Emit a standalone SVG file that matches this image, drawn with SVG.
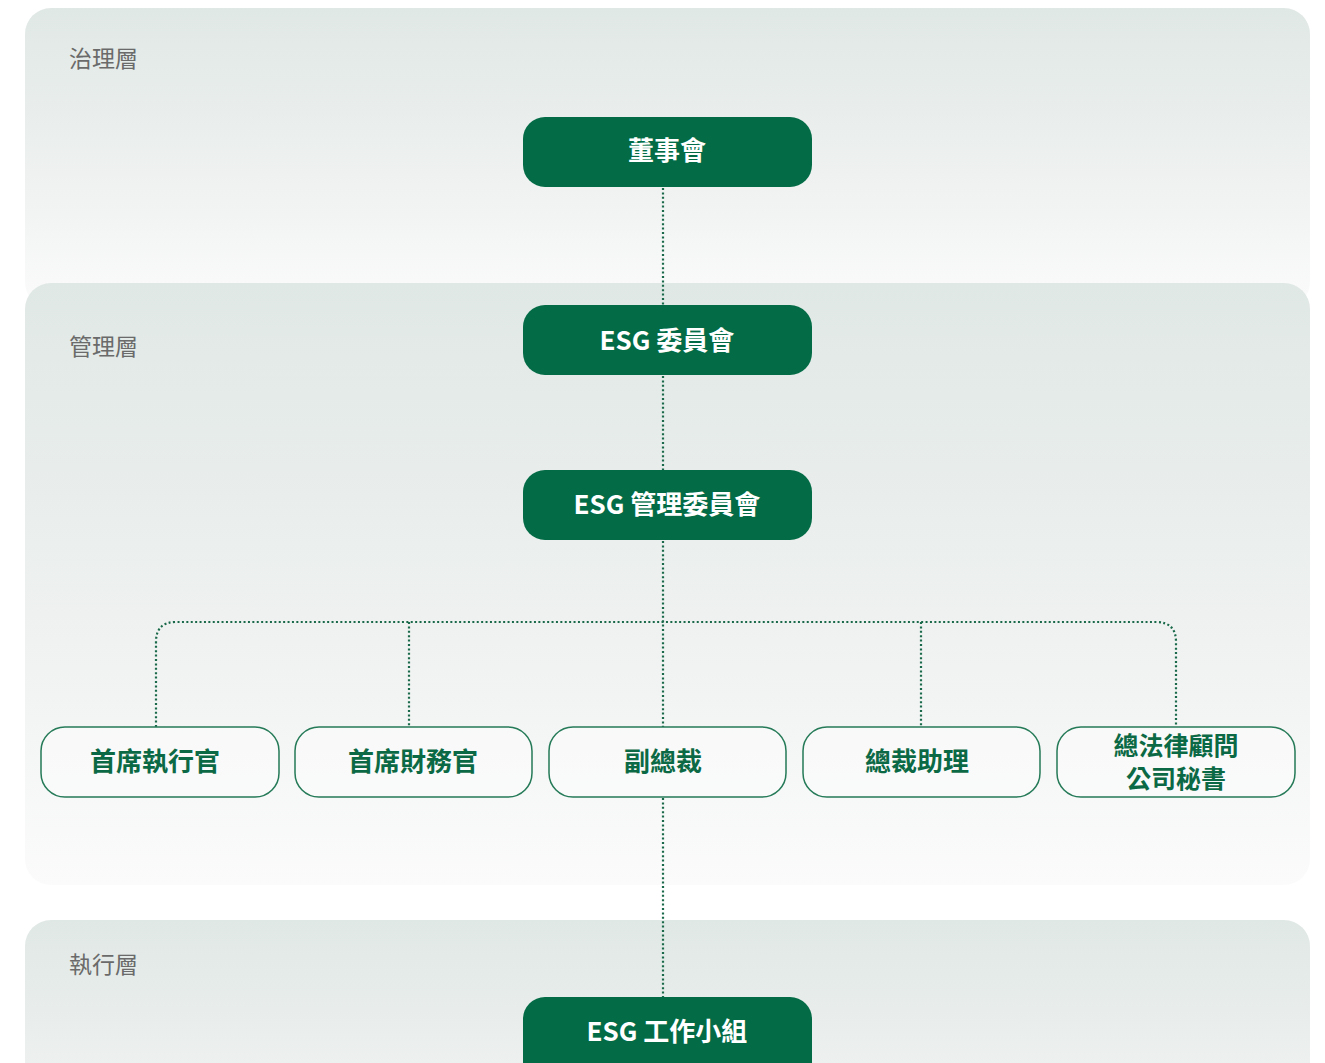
<svg xmlns="http://www.w3.org/2000/svg" width="1325" height="1063" viewBox="0 0 1325 1063">
<defs>
<linearGradient id="pg" x1="0" y1="0" x2="0" y2="1">
<stop offset="0" stop-color="#e0e8e5"/>
<stop offset="0.55" stop-color="#eef1f0"/>
<stop offset="1" stop-color="#fbfbfb"/>
</linearGradient>
<linearGradient id="pg3" x1="0" y1="0" x2="0" y2="1">
<stop offset="0" stop-color="#e0e8e5"/>
<stop offset="1" stop-color="#f0f2f1"/>
</linearGradient>
<style>
.lbl{font-family:"Noto Sans CJK TC","Noto Sans",sans-serif;font-size:23px;font-weight:400;fill:#6a6a6a}
.fn rect{fill:#036c46}
.fn text{font-family:"Noto Sans CJK TC","Noto Sans",sans-serif;font-weight:700;font-size:26px;fill:#ffffff;text-anchor:middle;dominant-baseline:central}
.on rect{fill:#fbfcfb;fill-opacity:0.6;stroke:#257a58;stroke-width:1.5}
.on text{font-family:"Noto Sans CJK TC","Noto Sans",sans-serif;font-weight:700;font-size:26px;fill:#0b6a45;text-anchor:middle;dominant-baseline:central}
.on text.two{font-size:25px}
.con path{fill:none;stroke:#19694a;stroke-width:2.2;stroke-dasharray:2 2.4}
</style>
</defs>
<g id="panels">
<rect x="25" y="8" width="1285" height="300" rx="26" fill="url(#pg)"/>
<rect x="25" y="283" width="1285" height="602" rx="26" fill="url(#pg)"/>
<rect x="25" y="920" width="1285" height="180" rx="26" fill="url(#pg3)"/>
<text class="lbl" x="69" y="67">治理層</text>
<text class="lbl" x="69" y="355">管理層</text>
<text class="lbl" x="69" y="973">執行層</text>
</g>
<g id="connectors" class="con">
<path d="M663 188 V305"/>
<path d="M663 376 V470"/>
<path d="M663 541 V727"/>
<path d="M663 798 V997"/>
<path d="M156 727 V642 Q156 622 176 622 H1156 Q1176 622 1176 642 V727"/>
<path d="M409 622 V727"/>
<path d="M921 622 V727"/>
</g>
<g id="n-board" class="fn"><rect x="523" y="117" width="289" height="70" rx="22"/><text x="667" y="148">董事會</text></g>
<g id="n-esgc" class="fn"><rect x="523" y="305" width="289" height="70" rx="22"/><text x="667" y="338">ESG 委員會</text></g>
<g id="n-esgm" class="fn"><rect x="523" y="470" width="289" height="70" rx="22"/><text x="667" y="502">ESG 管理委員會</text></g>
<g id="n-ceo" class="on"><rect x="41" y="727" width="238" height="70" rx="24"/><text x="155" y="759">首席執行官</text></g>
<g id="n-cfo" class="on"><rect x="295" y="727" width="237" height="70" rx="24"/><text x="413" y="759">首席財務官</text></g>
<g id="n-vp" class="on"><rect x="549" y="727" width="237" height="70" rx="24"/><text x="663" y="759">副總裁</text></g>
<g id="n-asst" class="on"><rect x="803" y="727" width="237" height="70" rx="24"/><text x="917" y="759">總裁助理</text></g>
<g id="n-legal" class="on"><rect x="1057" y="727" width="238" height="70" rx="24"/><text class="two" x="1176" y="744">總法律顧問</text><text class="two" x="1176" y="777">公司秘書</text></g>
<g id="n-wg" class="fn"><rect x="523" y="997" width="289" height="90" rx="22"/><text x="667" y="1029">ESG 工作小組</text></g>
</svg>
